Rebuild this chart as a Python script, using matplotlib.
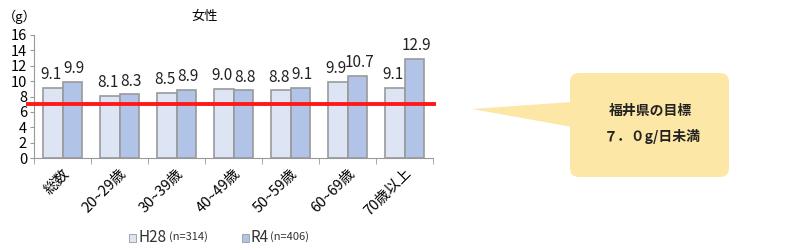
import matplotlib
matplotlib.use("Agg")
import matplotlib.pyplot as plt
import numpy as np
from matplotlib.patches import FancyBboxPatch, Polygon, Rectangle

plt.rcParams['font.family'] = ['Noto Sans CJK JP', 'DejaVu Sans']

CATS = ["総数", "20~29歳", "30~39歳", "40~49歳", "50~59歳", "60~69歳", "70歳以上"]
H28 = [9.1, 8.1, 8.5, 9.0, 8.8, 9.9, 9.1]
R4 = [9.9, 8.3, 8.9, 8.8, 9.1, 10.7, 12.9]
TARGET = 7.0
C_H28, C_R4, EDGE = "#dde4f4", "#b1c4e7", "#9a9a9a"

fig = plt.figure(figsize=(8, 2.5), dpi=100)
ax = fig.add_axes([34/800, 1-158/250, 399/800, 123/250])
x = np.arange(len(CATS)); w = 0.335
ax.bar(x - w/2, H28, w, color=C_H28, edgecolor=EDGE, lw=1.2)
ax.bar(x + w/2, R4, w, color=C_R4, edgecolor=EDGE, lw=1.2)
for xi, v in zip(x - w/2, H28):
    ax.text(xi - 0.04, v + 0.6, f"{v:.1f}", ha="center", va="bottom", fontsize=11, color="#222")
for xi, v in zip(x + w/2, R4):
    ax.text(xi + 0.04, v + 0.6, f"{v:.1f}", ha="center", va="bottom", fontsize=11, color="#222")
ax.hlines(TARGET, -0.64, 6.56, color="#ff1a1a", lw=2.8, clip_on=False, zorder=5)

ax.set_xlim(-0.5, 6.5); ax.set_ylim(0, 16)
ax.set_yticks(range(0, 17, 2))
ax.tick_params(axis="y", labelsize=10.5, length=3, color="#999", pad=2)
ax.set_xticks(x); ax.set_xticklabels(CATS, rotation=45, ha="right", rotation_mode="anchor", fontsize=10.5)
ax.tick_params(axis="x", length=0, pad=6)
ax.set_xticks(np.arange(-0.5, 7, 1), minor=True)
ax.tick_params(axis="x", which="minor", length=4, color="#999")
for s in ["top", "right"]: ax.spines[s].set_visible(False)
for s in ["left", "bottom"]: ax.spines[s].set_color("#999")

fig.text(205/800, 1-16/250, "女性", ha="center", va="center", fontsize=9.5)
fig.text(3/800, 1-17/250, "（g）", ha="left", va="center", fontsize=9.5)

# overlay for legend and callout (pixel coords)
ov = fig.add_axes([0, 0, 1, 1]); ov.set_xlim(0, 800); ov.set_ylim(250, 0); ov.axis("off")
ov.add_patch(Rectangle((129, 234), 7, 8, fc=C_H28, ec=EDGE, lw=0.6))
ov.text(138, 238, "H28", fontsize=11, va="center", color="#333")
ov.text(169, 237, "(n=314)", fontsize=8, va="center", color="#333")
ov.add_patch(Rectangle((242, 234), 7, 8, fc=C_R4, ec=EDGE, lw=0.6))
ov.text(251, 238, "R4", fontsize=11, va="center", color="#333")
ov.text(270, 237, "(n=406)", fontsize=8, va="center", color="#333")

ov.add_patch(FancyBboxPatch((570, 73), 159, 104, boxstyle="round,pad=0,rounding_size=9",
                            fc="#fde7a6", ec="none"))
ov.add_patch(Polygon([(472, 109), (572, 102), (572, 127)], closed=True, fc="#fde7a6", ec="none"))
ov.text(650, 111, "福井県の目標", ha="center", va="center", fontsize=10, fontweight="bold", color="#222")
ov.text(652, 137, "７．０g/日未満", ha="center", va="center", fontsize=10, fontweight="bold", color="#222")

fig.savefig("out.png", dpi=100)
